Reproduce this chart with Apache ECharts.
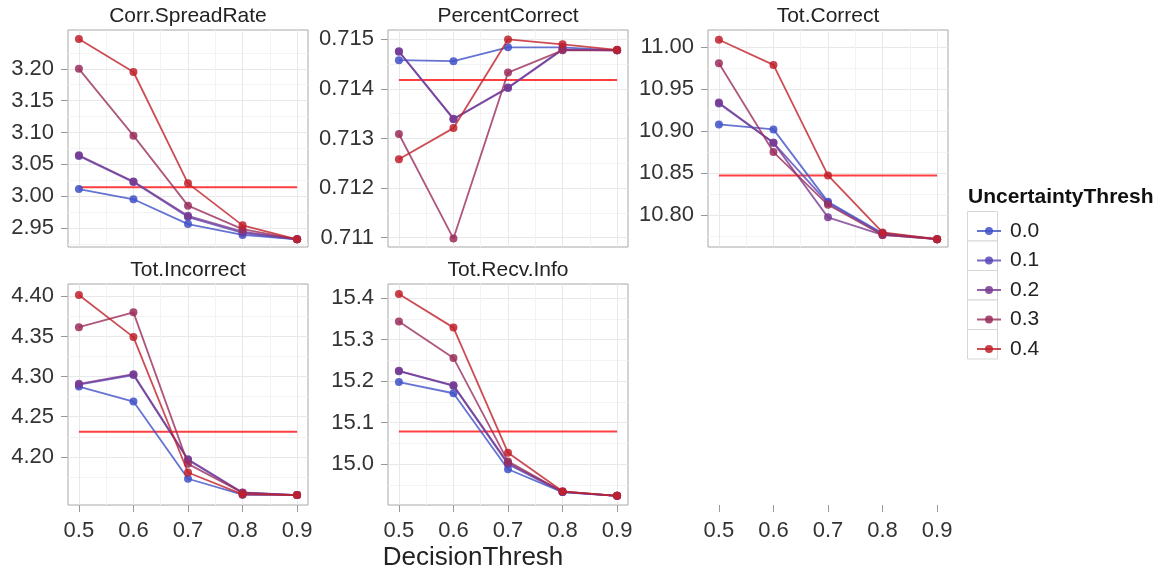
<!DOCTYPE html>
<html>
<head>
<meta charset="utf-8">
<script src="https://cdn.jsdelivr.net/npm/echarts@6/dist/echarts.min.js"></script>
<style>
  html, body { margin: 0; padding: 0; background: #fff; }
  #chart { width: 1164px; height: 577px; }
</style>
</head>
<body>
<div id="chart"></div>
<script>
// x values shared by every panel
const decisionThresh = [0.5, 0.6, 0.7, 0.8, 0.9];
const uncertaintyThresh = ['0.0', '0.1', '0.2', '0.3', '0.4'];
const lineColors = ['#3f50c8', '#5a47b6', '#793a90', '#9a2d5c', '#c0202a'];

// one row per UncertaintyThresh level (0.0 .. 0.4)
const corrSpreadRate = [
    [3.011, 2.995, 2.956, 2.939, 2.932],
    [3.063, 3.022, 2.967, 2.942, 2.932],
    [3.064, 3.023, 2.969, 2.944, 2.932],
    [3.200, 3.095, 2.985, 2.948, 2.932],
    [3.247, 3.195, 3.020, 2.954, 2.932]
];
const percentCorrect = [
    [0.71458, 0.71456, 0.71484, 0.71484, 0.71478],
    [0.71475, 0.71339, 0.71402, 0.71479, 0.71478],
    [0.71476, 0.71340, 0.71403, 0.71480, 0.71478],
    [0.71309, 0.71098, 0.71433, 0.71478, 0.71478],
    [0.71258, 0.71321, 0.71500, 0.71490, 0.71479]
];
const totCorrect = [
    [10.908, 10.902, 10.8155, 10.778, 10.771],
    [10.933, 10.886, 10.814, 10.777, 10.771],
    [10.934, 10.886, 10.797, 10.776, 10.771],
    [10.981, 10.875, 10.812, 10.776, 10.771],
    [11.009, 10.979, 10.847, 10.779, 10.771]
];
const totIncorrect = [
    [4.2876, 4.2689, 4.1727, 4.1528, 4.1524],
    [4.2900, 4.3020, 4.1960, 4.1550, 4.1524],
    [4.2910, 4.3030, 4.1971, 4.1556, 4.1524],
    [4.3616, 4.3801, 4.1913, 4.1553, 4.1524],
    [4.4017, 4.3492, 4.1805, 4.1532, 4.1524]
];
const totRecvInfo = [
    [15.198, 15.171, 14.988, 14.933, 14.924],
    [15.224, 15.189, 15.000, 14.933, 14.924],
    [15.225, 15.190, 15.003, 14.934, 14.924],
    [15.344, 15.256, 15.007, 14.934, 14.924],
    [15.410, 15.329, 15.028, 14.935, 14.924]
];

// horizontal red reference line of each panel
const referenceValues = [3.014, 0.71418, 10.847, 4.2314, 15.079];

const panelNames = ['Corr.SpreadRate', 'PercentCorrect', 'Tot.Correct', 'Tot.Incorrect', 'Tot.Recv.Info'];
const panelValues = [corrSpreadRate, percentCorrect, totCorrect, totIncorrect, totRecvInfo];

// y tick labels per panel
const yTicks = [
    [2.95, 3.00, 3.05, 3.10, 3.15, 3.20],
    [0.711, 0.712, 0.713, 0.714, 0.715],
    [10.80, 10.85, 10.90, 10.95, 11.00],
    [4.20, 4.25, 4.30, 4.35, 4.40],
    [15.0, 15.1, 15.2, 15.3, 15.4]
];
const yDecimals = [2, 3, 2, 2, 1];
const yLimits = [
    [2.920, 3.261],
    [0.71081, 0.71519],
    [10.7616, 11.0207],
    [4.140, 4.4154],
    [14.902, 15.434]
];
const xLimits = [0.48, 0.92];

// layout
const FONT = "'Liberation Sans', Arial, sans-serif";
const TICK_SIZE = 22;
const colLeft = [68, 388, 708];
const panelW = 240;
const rowTop = [30, 284];
const rowH = [217, 221];
const panelPos = [[0, 0], [0, 1], [0, 2], [1, 0], [1, 1]];

function minorsOf(ticks, lim) {
    const step = ticks[1] - ticks[0];
    const out = [];
    const lo = ticks[0] - step / 2;
    for (let v = lo; v <= lim[1] + 1e-9; v += step) {
        if (v >= lim[0]) out.push(+v.toFixed(6));
    }
    return out;
}

const grids = [], xAxes = [], yAxes = [], series = [], graphics = [];

panelNames.forEach((name, p) => {
    const [r, c] = panelPos[p];
    grids.push({
        left: colLeft[c], top: rowTop[r], width: panelW, height: rowH[r],
        show: true, borderColor: '#a8a8a8', borderWidth: 1, backgroundColor: '#fff'
    });
    const bottomRow = r === 1;
    // main x axis
    xAxes.push({
        type: 'value', gridIndex: p, min: xLimits[0], max: xLimits[1],
        axisLine: { show: false },
        axisTick: { show: bottomRow, length: 7, inside: false, customValues: decisionThresh,
                    lineStyle: { color: '#999' } },
        axisLabel: { show: bottomRow, customValues: decisionThresh, margin: 15,
                     fontSize: TICK_SIZE, fontFamily: FONT, color: '#333',
                     formatter: v => v.toFixed(1) },
        splitLine: { show: true, lineStyle: { color: '#e8e8e8', width: 1 } }
    });
    // minor x grid
    xAxes.push({
        type: 'value', gridIndex: p, min: xLimits[0], max: xLimits[1], position: 'top',
        axisLine: { show: false }, axisLabel: { show: false },
        axisTick: { show: false, customValues: minorsOf(decisionThresh, xLimits) },
        splitLine: { show: true, lineStyle: { color: '#f3f3f3', width: 1 } }
    });
    yAxes.push({
        type: 'value', gridIndex: p, min: yLimits[p][0], max: yLimits[p][1],
        axisLine: { show: false },
        axisTick: { show: true, length: 7, customValues: yTicks[p], lineStyle: { color: '#999' } },
        axisLabel: { customValues: yTicks[p], margin: 14, fontSize: TICK_SIZE, fontFamily: FONT,
                     color: '#333', formatter: v => v.toFixed(yDecimals[p]) },
        splitLine: { show: true, lineStyle: { color: '#e8e8e8', width: 1 } }
    });
    yAxes.push({
        type: 'value', gridIndex: p, min: yLimits[p][0], max: yLimits[p][1], position: 'right',
        axisLine: { show: false }, axisLabel: { show: false },
        axisTick: { show: false, customValues: minorsOf(yTicks[p], yLimits[p]) },
        splitLine: { show: true, lineStyle: { color: '#f3f3f3', width: 1 } }
    });

    series.push({
        type: 'line', name: 'reference', xAxisIndex: 2 * p, yAxisIndex: 2 * p,
        data: decisionThresh.map(x => [x, referenceValues[p]]),
        symbol: 'none', silent: true, z: 1,
        lineStyle: { color: '#ff2a2a', width: 2, opacity: 0.9 }
    });
    panelValues[p].forEach((vals, i) => {
        series.push({
            type: 'line', name: uncertaintyThresh[i], xAxisIndex: 2 * p, yAxisIndex: 2 * p,
            data: decisionThresh.map((x, j) => [x, vals[j]]),
            symbol: 'circle', symbolSize: 8, z: 2 + i,
            itemStyle: { color: lineColors[i], opacity: 0.85 },
            lineStyle: { color: lineColors[i], width: 1.8, opacity: 0.8 }
        });
    });

    graphics.push({
        type: 'text', x: colLeft[c] + panelW / 2, y: rowTop[r] - 14,
        style: { text: name, font: '21px ' + FONT, fill: '#222',
                 textAlign: 'center', textVerticalAlign: 'middle' }
    });
});

// empty 6th slot: only the x axis labels of column 3
grids.push({ left: colLeft[2], top: rowTop[1], width: panelW, height: rowH[1], show: false });
xAxes.push({
    type: 'value', gridIndex: 5, min: xLimits[0], max: xLimits[1],
    axisLine: { show: false },
    axisTick: { show: true, length: 7, customValues: decisionThresh, lineStyle: { color: '#999' } },
    axisLabel: { customValues: decisionThresh, margin: 15, fontSize: TICK_SIZE, fontFamily: FONT,
                 color: '#333', formatter: v => v.toFixed(1) },
    splitLine: { show: false }
});
yAxes.push({ type: 'value', gridIndex: 5, show: false, min: 0, max: 1 });

// x axis title
graphics.push({
    type: 'text', x: 473, y: 558,
    style: { text: 'DecisionThresh', font: '26px ' + FONT, fill: '#222',
             textAlign: 'center', textVerticalAlign: 'middle' }
});
// legend title and key boxes
graphics.push({
    type: 'text', x: 968, y: 197,
    style: { text: 'UncertaintyThresh', font: 'bold 21px ' + FONT, fill: '#111',
             textVerticalAlign: 'middle' }
});
uncertaintyThresh.forEach((u, i) => {
    graphics.push({
        type: 'rect', z: -1,
        shape: { x: 967.5, y: 211.5 + i * 29.5, width: 30, height: 29.5 },
        style: { fill: '#fff', stroke: '#d6d6d6', lineWidth: 1 }
    });
});

const chart = echarts.init(document.getElementById('chart'), null, { renderer: 'canvas' });
chart.setOption({
    animation: false,
    backgroundColor: '#fff',
    grid: grids,
    xAxis: xAxes,
    yAxis: yAxes,
    legend: {
        data: uncertaintyThresh,
        orient: 'vertical', left: 971, top: 215,
        itemWidth: 24, itemHeight: 10, itemGap: 7.5,
        textStyle: { fontSize: 21, fontFamily: FONT, color: '#222', lineHeight: 22,
                     padding: [0, 0, 0, 4] },
        selectedMode: false
    },
    graphic: graphics,
    series: series
});
</script>
</body>
</html>
